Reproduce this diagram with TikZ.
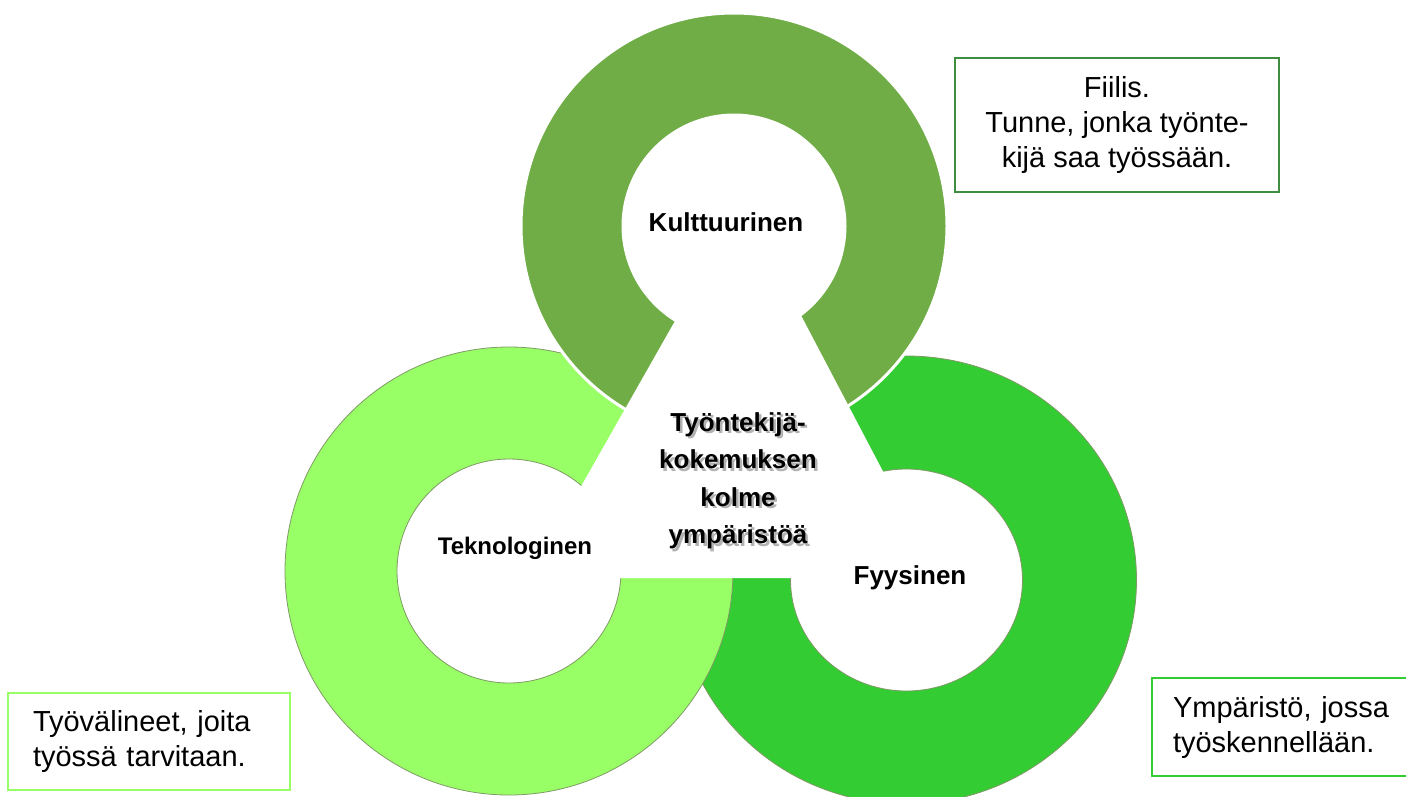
\documentclass[tikz,border=0pt]{standalone}
\usepackage{fontspec}
\setmainfont{Liberation Sans}
\definecolor{ringT}{HTML}{70AD47}
\definecolor{ringL}{HTML}{99FF66}
\definecolor{ringR}{HTML}{33CC33}
\definecolor{edgeC}{HTML}{7F9A65}
\definecolor{boxT}{HTML}{3F8E3F}
\begin{document}
\begin{tikzpicture}[x=1pt,y=-1pt,
  ringedge/.style={draw=edgeC, line width=0.8pt, even odd rule},
  lbl/.style={font=\bfseries\fontsize{26}{30}\selectfont, inner sep=0pt},
  midtxt/.style={font=\bfseries\fontsize{26}{37.5}\selectfont, inner sep=0pt, align=center},
  note/.style={draw, line width=2.5pt, font=\fontsize{29}{35}\selectfont, inner ysep=0pt}]
\useasboundingbox (0,0) rectangle (1406,796);
\clip (0,0) rectangle (1406,796);
% right ring
\path[fill=ringR, ringedge] (906.5,580) ellipse [x radius=230pt, y radius=224pt]
      (906.5,580) ellipse [x radius=116pt, y radius=111pt];
% left ring
\path[fill=ringL, ringedge] (509,571) circle [radius=224pt] (509,571) circle [radius=112pt];
% top ring
\path[fill=ringT, draw=white, line width=3pt, even odd rule] (734,226) circle [radius=213pt]
      (734,226) circle [radius=111pt];
% central triangle
\fill[white] (742,203) -- (529,578) -- (939,578) -- cycle;
% labels
\node[lbl] (kult) at (726,222) {Kulttuurinen};
\node[lbl, font=\bfseries\fontsize{24}{28}\selectfont] (tekn) at (515,548) {Teknologinen};
\node[lbl] (fyys) at (910,578) {Fyysinen};
\node[midtxt, text=black!30] (midshadow) at (740.5,483.5) {Työntekijä-\\kokemuksen\\kolme\\ympäristöä};
\node[midtxt] (mid) at (738,481) {Työntekijä-\\kokemuksen\\kolme\\ympäristöä};
% note boxes
\node[note, draw=boxT, minimum width=324pt, minimum height=134pt, align=center] (b1) at (1117,125)
  {Fiilis.\\Tunne, jonka työnte-\\kijä saa työssään.};
\node[note, draw=ringL, minimum width=282pt, minimum height=97pt, text width=232pt, inner xsep=25pt, align=left] (b2) at (149,741.5)
  {Työvälineet, joita\\työssä tarvitaan.};
\node[note, draw=ringR, minimum width=274pt, minimum height=98pt, text width=232pt, inner xsep=21pt, align=left] (b3) at (1289,727)
  {Ympäristö, jossa\\työskennellään.};
\end{tikzpicture}
\end{document}
